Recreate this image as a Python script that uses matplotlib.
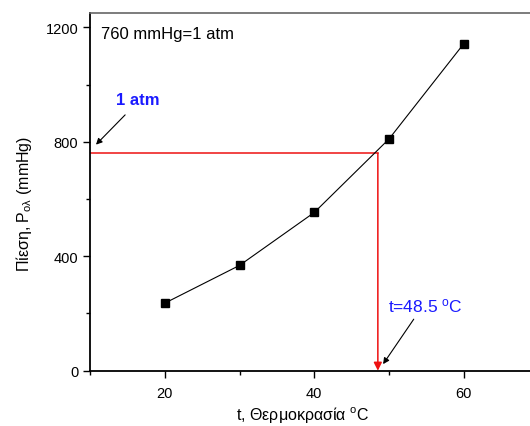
import matplotlib
matplotlib.use("Agg")
import matplotlib.pyplot as plt
from matplotlib.ticker import MultipleLocator

plt.rcParams['font.family'] = ['Liberation Sans', 'DejaVu Sans']
plt.rcParams['mathtext.fontset'] = 'custom'
plt.rcParams['mathtext.rm'] = 'Liberation Sans'
plt.rcParams['mathtext.it'] = 'Liberation Sans'

temps = [20, 30, 40, 50, 60]
pressures = [236, 368, 553, 810, 1143]
p_atm = 760
t_boil = 48.5

fig = plt.figure(figsize=(5.30, 4.27), dpi=100)
W, H = 530, 427
left, right, top, bottom = 90, 538.6, 14, 371.7
ax = fig.add_axes([left / W, 1 - bottom / H, (right - left) / W, (bottom - top) / H])

ax.plot(temps, pressures, color='black', lw=0.8, marker='s', markersize=6,
        markerfacecolor='black', markeredgecolor='black', zorder=3)

ax.plot([10, t_boil], [p_atm, p_atm], color='#ee1111', lw=1.1, zorder=2)
ax.annotate('', xy=(t_boil, 0), xytext=(t_boil, p_atm),
            arrowprops=dict(arrowstyle='-|>', color='#ee1111', lw=1.1,
                            mutation_scale=12, shrinkA=0, shrinkB=0), zorder=2)

ax.set_xlim(10, 70)
ax.set_ylim(0, 1250)
ax.xaxis.set_major_locator(MultipleLocator(20))
ax.xaxis.set_minor_locator(MultipleLocator(10))
ax.yaxis.set_major_locator(MultipleLocator(400))
ax.yaxis.set_minor_locator(MultipleLocator(200))
ax.tick_params(which='major', direction='out', length=5, width=1, labelsize=10.5)
ax.tick_params(which='minor', direction='out', length=3, width=1)
ax.tick_params(axis='x', pad=6)

ax.spines['right'].set_visible(False)
ax.spines['top'].set_color('#666666')
ax.spines['top'].set_linewidth(1.2)
ax.spines['left'].set_linewidth(1.3)
ax.spines['bottom'].set_linewidth(1.3)

ax.set_xlabel(r't, Θερμοκρασία $^{\mathrm{o}}$C', fontsize=11.5)
ax.set_ylabel(r'Πίεση, P$_{\mathrm{ολ}}$ (mmHg)', fontsize=11.5)
ax.xaxis.set_label_coords(0.473, -0.092)
ax.yaxis.set_label_coords(-0.125, 0.47)

ax.text(11.5, 1180, '760 mmHg=1 atm', fontsize=12, va='center', ha='left')

ax.text(13.5, 946, '1 atm', fontsize=12, fontweight='bold', color='#1a1aff',
        va='center', ha='left')
ax.annotate('', xy=(10.8, 790), xytext=(14.7, 894),
            arrowprops=dict(arrowstyle='-|>', color='black', lw=0.8,
                            mutation_scale=9, shrinkA=0, shrinkB=0))

ax.text(49.8, 228, r't=48.5 $^{\mathrm{o}}$C', fontsize=12.5, color='#1a1aff',
        va='center', ha='left')
ax.annotate('', xy=(49.2, 23), xytext=(53.3, 180),
            arrowprops=dict(arrowstyle='-|>', color='black', lw=0.8,
                            mutation_scale=9, shrinkA=0, shrinkB=0))

fig.savefig('out.png', dpi=100)
